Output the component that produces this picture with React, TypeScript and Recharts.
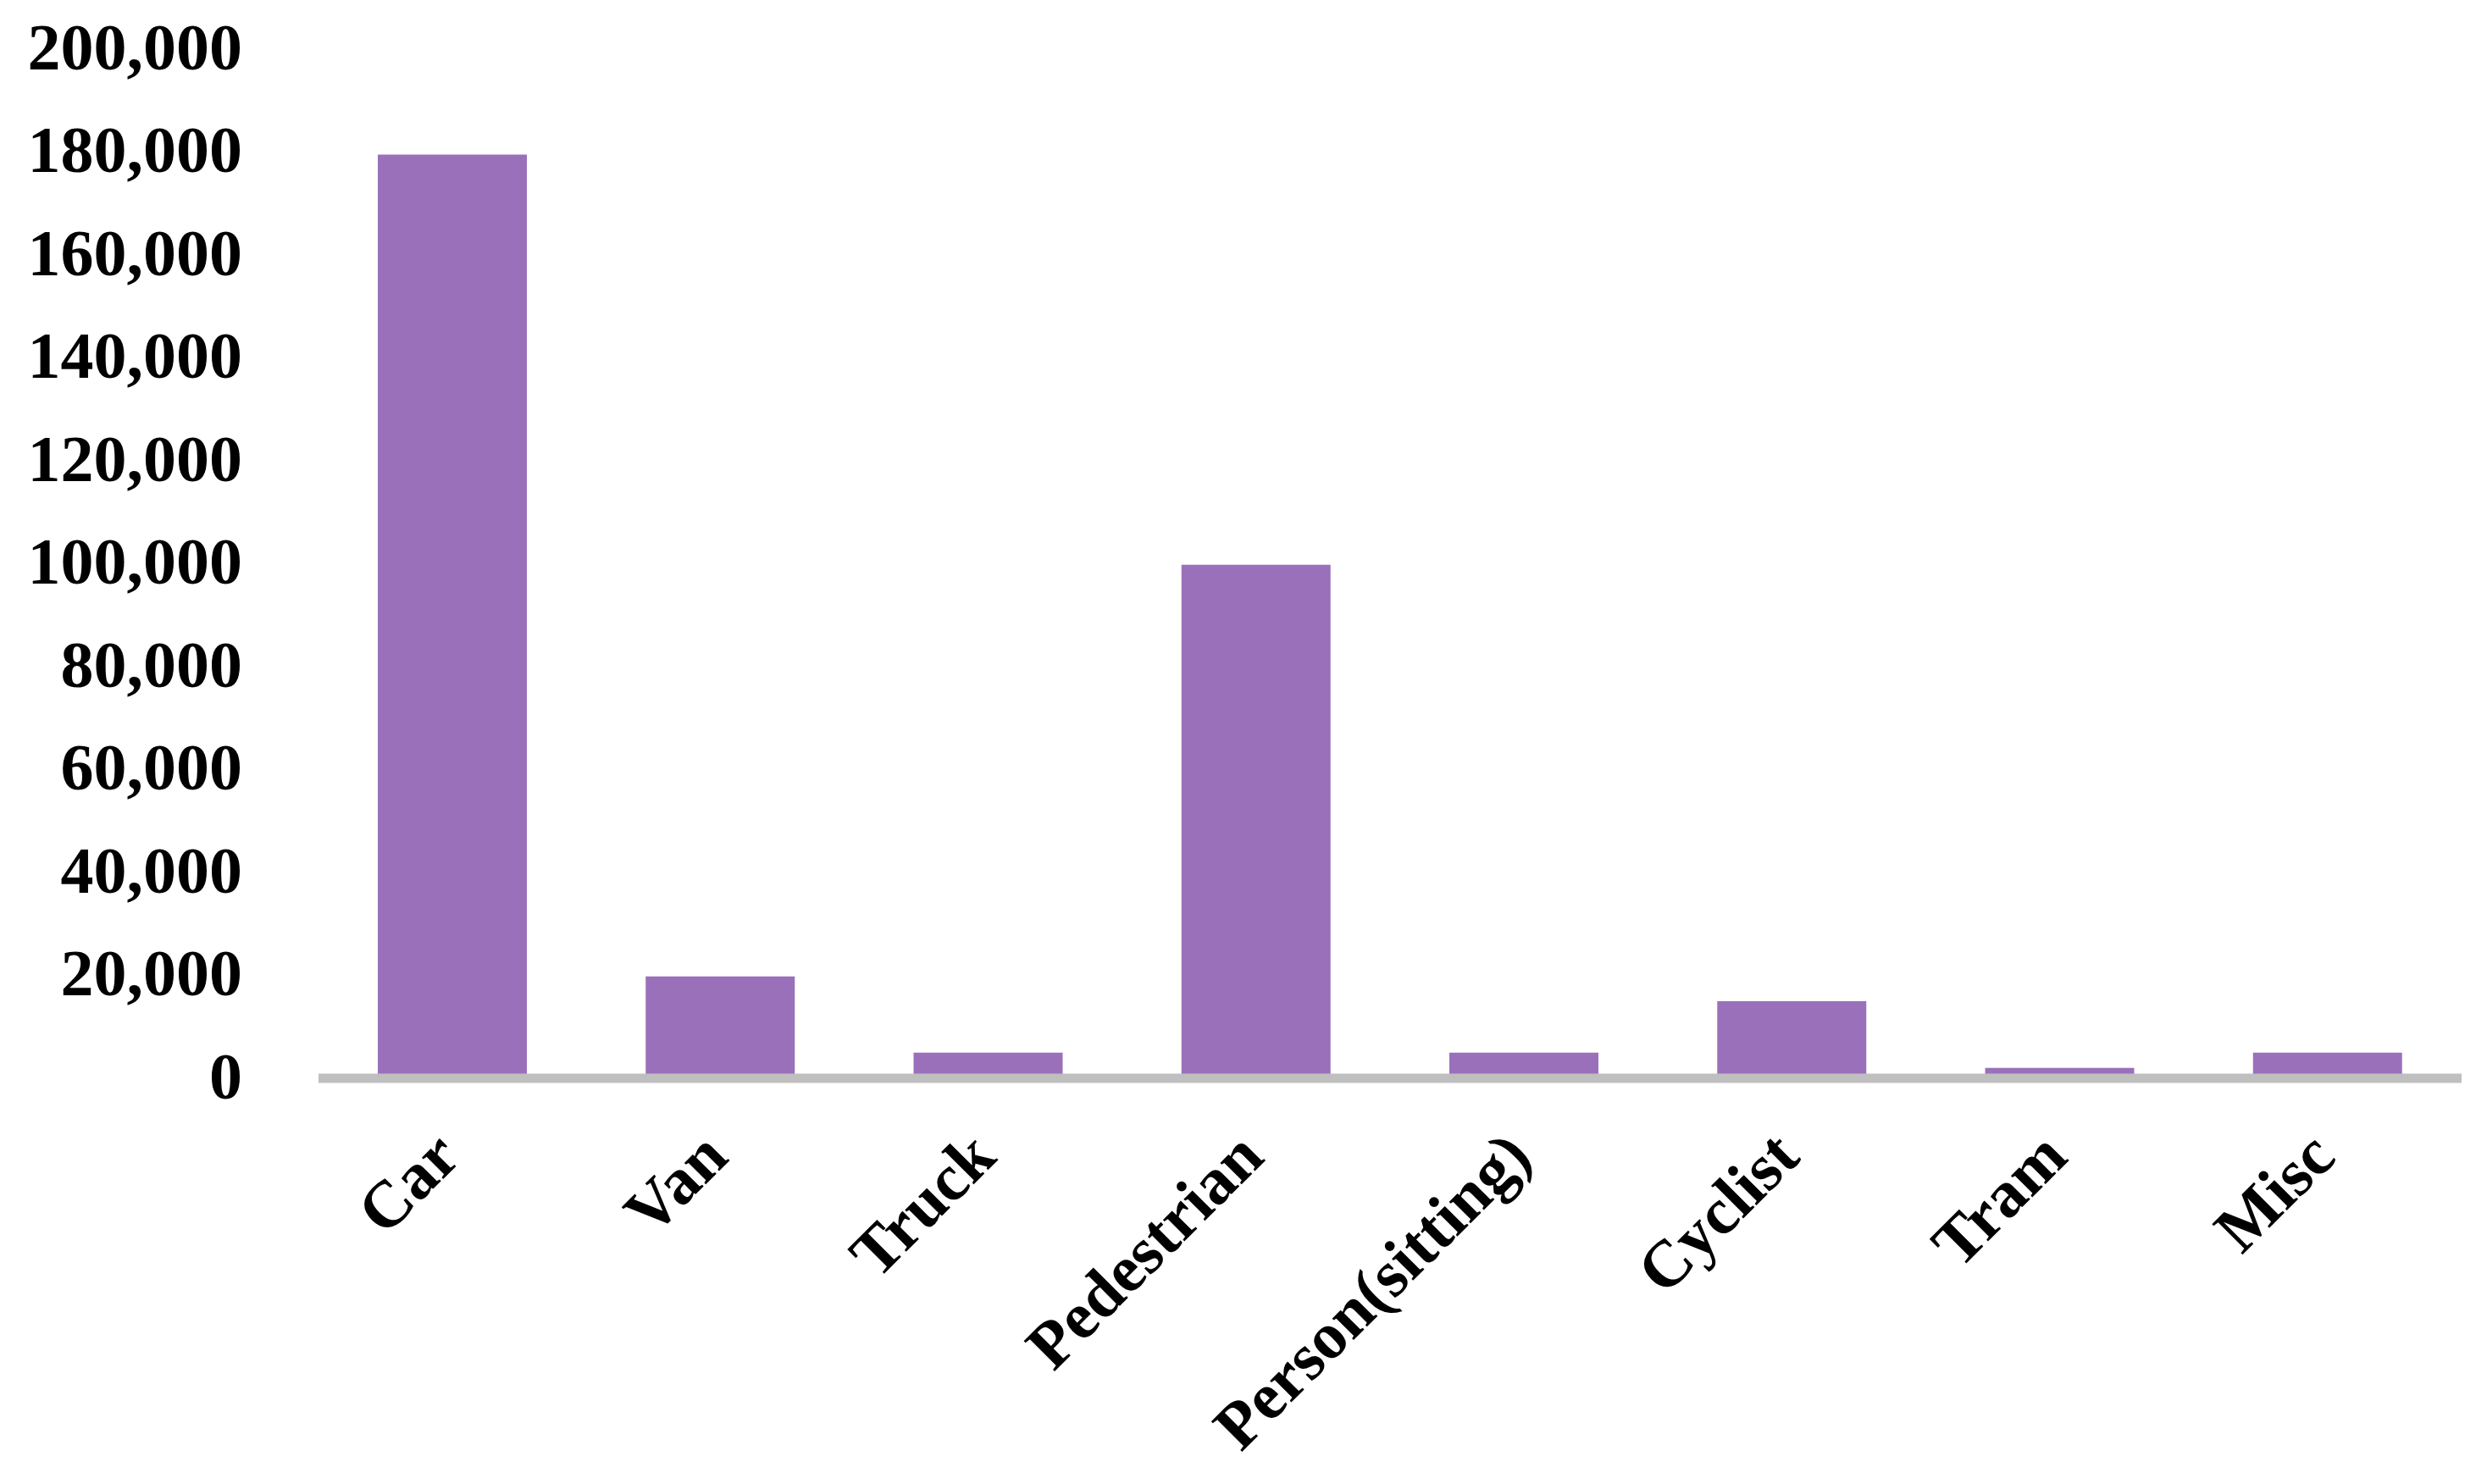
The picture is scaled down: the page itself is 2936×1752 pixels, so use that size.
import { BarChart, Bar, XAxis, YAxis } from "recharts";

// Object counts per class.
const categories = [
  "Car",
  "Van",
  "Truck",
  "Pedestrian",
  "Person(sitting)",
  "Cyclist",
  "Tram",
  "Misc",
];
const counts = [179500, 19800, 5000, 99800, 5000, 15000, 2000, 5000];
const yTicks = [
  0, 20000, 40000, 60000, 80000, 100000, 120000, 140000, 160000, 180000,
  200000,
];

const data = categories.map((name, i) => ({ name, count: counts[i] }));

const FONT = '"Liberation Serif", "Times New Roman", serif';
const BAR_COLOR = "#9b70bb";

/** Rotated category label, anchored at its end just below the axis. */
function CategoryTick(props: any) {
  const { x, y, payload } = props;
  const tx = x + 12;
  const ty = y + 94;
  return (
    <text
      x={tx}
      y={ty}
      transform={`rotate(-45, ${tx}, ${ty})`}
      textAnchor="end"
      fontFamily={FONT}
      fontWeight="bold"
      fontSize={78}
      fill="#000"
    >
      {payload.value}
    </text>
  );
}

export default function App() {
  return (
    <div
      style={{
        position: "absolute",
        left: 0,
        top: 0,
        width: 2936,
        height: 1752,
        background: "#fff",
      }}
    >
      <BarChart
        width={2936}
        height={1752}
        data={data}
        margin={{ top: 58, right: 30, left: 0, bottom: 0 }}
      >
        <YAxis
          domain={[0, 200000]}
          ticks={yTicks}
          interval={0}
          width={376}
          axisLine={false}
          tickLine={false}
          tickSize={0}
          tickMargin={90}
          tickFormatter={(v: number) => v.toLocaleString("en-US")}
          tick={{
            fill: "#000",
            fontFamily: FONT,
            fontWeight: "bold",
            fontSize: 78,
            dy: -4,
          }}
        />
        <Bar
          dataKey="count"
          fill={BAR_COLOR}
          barSize={176}
          isAnimationActive={false}
        />
        <XAxis
          dataKey="name"
          height={479}
          interval={0}
          tickLine={false}
          tickSize={0}
          axisLine={{ stroke: "#bfbfbf", strokeWidth: 11 }}
          tick={<CategoryTick />}
        />
      </BarChart>
    </div>
  );
}
